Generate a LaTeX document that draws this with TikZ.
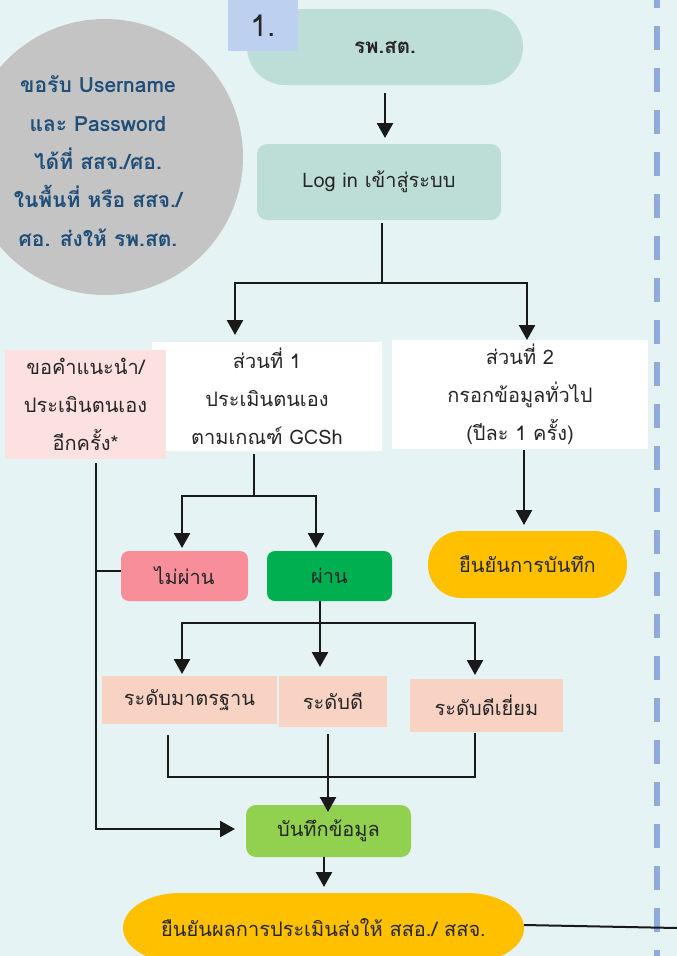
\documentclass[tikz,border=0pt]{standalone}
\usepackage{fontspec}
\setmainfont[Script=Thai]{Loma}
\usetikzlibrary{arrows.meta}
\definecolor{bg}{RGB}{229,243,244}
\definecolor{dashblue}{RGB}{143,170,220}
\definecolor{circgray}{RGB}{196,196,196}
\definecolor{circtext}{RGB}{31,78,121}
\definecolor{numblue}{RGB}{189,208,239}
\definecolor{mint}{RGB}{189,222,214}
\definecolor{pinklight}{RGB}{253,224,224}
\definecolor{failred}{RGB}{249,142,155}
\definecolor{passgreen}{RGB}{0,176,80}
\definecolor{gold}{RGB}{255,192,0}
\definecolor{peach}{RGB}{248,211,196}
\definecolor{lime}{RGB}{146,208,80}
\definecolor{ink}{RGB}{38,38,38}
\begin{document}
\begin{tikzpicture}[x=1pt,y=-1pt,
  base/.style={inner sep=0pt, outer sep=0pt, align=center, text=ink, font=\fontsize{20}{38}\selectfont},
  ln/.style={line width=2.5pt, draw=black!90},
  arr/.style={ln, -{Triangle[width=16pt,length=15pt]}},
]
\useasboundingbox (0,0) rectangle (677,956);
\fill[bg] (0,0) rectangle (677,956);
\clip (0,0) rectangle (677,956);
\draw[dashblue, line width=6pt, dash pattern=on 24pt off 18pt, dash phase=16pt] (657,0) -- (657,956);

% circle
\node[circle, fill=circgray, minimum size=276pt, inner sep=0pt] (circ) at (105,157) {};
\node[base, text=circtext, font=\bfseries\fontsize{21}{38.3}\selectfont] (circtxt) at (98,161)
  {ขอรับ Username\\และ Password\\ได้ที่ สสจ./ศอ.\\ในพื้นที่ หรือ สสจ./\\ศอ. ส่งให้ รพ.สต.};

% top
\node[base, fill=mint, rounded corners=38pt, minimum width=276pt, minimum height=76pt,
  font=\bfseries\fontsize{20.5}{38}\selectfont] (rpst) at (385,47) {รพ.สต.};
\node[base, fill=numblue, minimum width=70pt, minimum height=51pt,
  font=\fontsize{30}{36}\selectfont] (num) at (263,25.5) {1.};
\node[base, fill=mint, rounded corners=10pt, minimum width=244pt, minimum height=76pt] (login) at (379,182) {Log in เข้าสู่ระบบ};

% parts
\node[base, fill=white, minimum width=230pt, minimum height=109pt] (part1) at (267,396.5) {ส่วนที่ 1\\ประเมินตนเอง\\ตามเกณฑ์ GCSh};
\node[base, fill=white, minimum width=256pt, minimum height=109pt] (part2) at (520,394.5) {ส่วนที่ 2\\กรอกข้อมูลทั่วไป\\(ปีละ 1 ครั้ง)};
\node[base, fill=pinklight, minimum width=161pt, minimum height=109pt] (advice) at (85.5,404.5) {ขอคำแนะนำ/\\ประเมินตนเอง\\อีกครั้ง*};

\node[base, fill=failred, rounded corners=8pt, minimum width=127pt, minimum height=50pt] (fail) at (184.5,576) {ไม่ผ่าน};
\node[base, fill=passgreen, rounded corners=8pt, minimum width=125pt, minimum height=50pt] (pass) at (329.5,576) {ผ่าน};
\node[base, fill=gold, rounded corners=33pt, minimum width=199pt, minimum height=67pt] (conf1) at (527.5,564.5) {ยืนยันการบันทึก};

\node[base, fill=peach, minimum width=175pt, minimum height=48pt] (lvl1) at (189.5,700) {ระดับมาตรฐาน};
\node[base, fill=peach, minimum width=108pt, minimum height=51pt] (lvl2) at (333,701.5) {ระดับดี};
\node[base, fill=peach, minimum width=153pt, minimum height=53pt] (lvl3) at (486.5,705.5) {ระดับดีเยี่ยม};

\node[base, fill=lime, rounded corners=10pt, minimum width=165pt, minimum height=52pt] (save) at (328.5,831) {บันทึกข้อมูล};

\fill[gold] (180,893) -- (467,893) arc[start angle=90,end angle=-90,x radius=57pt,y radius=35pt]
  -- (180,963) arc[start angle=270,end angle=90,x radius=57pt,y radius=35pt] -- cycle;
\node[base, minimum width=401pt, minimum height=70pt] (conf2) at (323.5,928) {ยืนยันผลการประเมินส่งให้ สสอ./ สสจ.};

% connectors
\coordinate (sp1) at (382,283);
\coordinate (sp2) at (254,496);
\coordinate (sp3) at (320,623);
\coordinate (jn) at (328,777);
\coordinate (vl) at (96,463);
\coordinate (edge) at (677,928);

\draw[arr, shorten <=8pt, shorten >=6pt] (rpst.south) -- (rpst.south |- login.north);
\draw[ln, shorten <=3pt] (login.south -| sp1) -- (sp1);
\draw[arr, shorten >=7pt] (sp1) -| ([xshift=-32pt]part1.north);
\draw[arr] (sp1) -| ([xshift=7pt]part2.north);

\draw[ln, shorten <=3pt] (part1.south -| sp2) -- (sp2);
\draw[arr, shorten >=3pt] (sp2) -| ([xshift=-2.5pt]fail.north);
\draw[arr, shorten >=3pt] (sp2) -| ([xshift=-13.5pt]pass.north);

\draw[arr, shorten <=1pt, shorten >=6pt] ([xshift=4pt]part2.south) -- ([xshift=4pt]part2.south |- conf1.north);

\draw[arr, shorten <=4pt, shorten >=11pt] (advice.south -| vl) |- ([yshift=2pt]save.west);
\draw[ln] ([yshift=5pt]fail.west) -- ([yshift=5pt]fail.west -| vl);

\draw[arr, shorten >=9pt] (pass.south -| sp3) -- (sp3 |- lvl2.north);
\draw[arr, shorten >=2pt] (sp3) -| ([xshift=-7.5pt]lvl1.north);
\draw[arr, shorten >=4pt] (sp3) -| ([xshift=-11.5pt]lvl3.north);

\draw[ln, shorten <=11pt] ([xshift=-21.5pt]lvl1.south) |- (jn);
\draw[ln, shorten <=1pt] ([xshift=-11.5pt]lvl3.south) |- (jn);
\draw[arr, shorten <=7pt, shorten >=-7pt] ([xshift=-5pt]lvl2.south) -- ([xshift=-5pt]lvl2.south |- save.north);

\draw[arr, shorten >=6pt] ([xshift=-4.5pt]save.south) -- ([xshift=-4.5pt]save.south |- conf2.north);
\draw[ln, line width=2pt] ([yshift=3pt]conf2.east) -- (edge);
\end{tikzpicture}
\end{document}
